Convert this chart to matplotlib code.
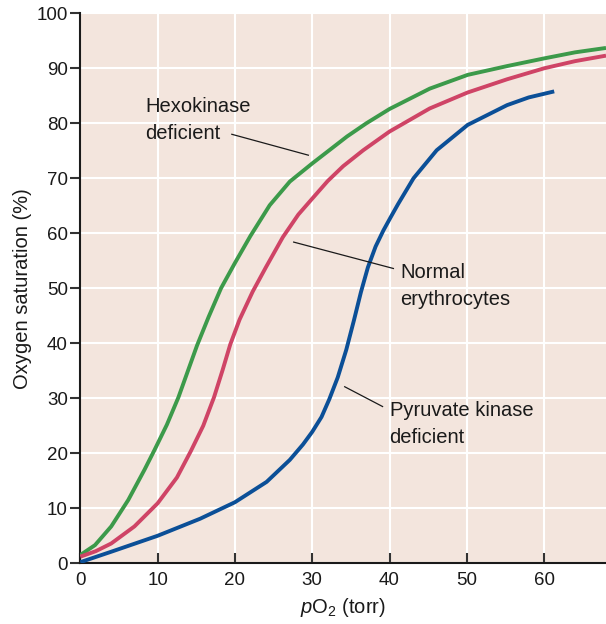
import numpy as np
import matplotlib
matplotlib.use("Agg")
import matplotlib.pyplot as plt

# curves (pO2 in torr, saturation in %)
hexo_x = [0, 1.9, 4.0, 6.2, 8.3, 9.6, 11.2, 12.7, 14.0, 15.1, 16.6, 18.2, 20, 22,
          24.5, 27.1, 30, 32.3, 34.5, 37, 40, 45.2, 50.1, 55.2, 60, 64, 68]
hexo_y = [1.5, 3.3, 6.7, 11.5, 17.0, 20.6, 25.2, 30.2, 35.3, 39.6, 44.8, 50.0, 54.6, 59.5,
          65.1, 69.4, 72.7, 75.2, 77.6, 80.0, 82.6, 86.3, 88.8, 90.4, 91.8, 92.9, 93.7]

norm_x = [0, 2, 4, 7, 10, 12.5, 14.3, 15.9, 17.3, 18.4, 19.4, 20.6, 22.3, 24, 26.2,
          28.2, 30, 32, 34, 36.6, 40, 45.2, 50.1, 55.2, 60, 64, 68]
norm_y = [1.2, 2.2, 3.6, 6.7, 10.9, 15.6, 20.4, 25, 30.2, 35.1, 39.8, 44.3, 49.4, 53.8, 59.3,
          63.4, 66.3, 69.5, 72.2, 75.1, 78.5, 82.7, 85.6, 88.0, 90.0, 91.3, 92.3]

pk_x = [0, 4, 10, 15.5, 20, 24.1, 27.1, 28.8, 30, 31.2, 32.2, 33.3, 34.4, 35.4, 36.3,
        37.2, 38.2, 39.2, 40.1, 41.1, 43.1, 46.1, 50.1, 55.2, 58, 61.3]
pk_y = [0.2, 2.1, 5.0, 8.1, 11.1, 14.8, 18.8, 21.6, 23.9, 26.6, 29.8, 33.8, 38.8, 44.2, 49.3,
        53.8, 57.6, 60.5, 62.8, 65.3, 70, 75.1, 79.7, 83.3, 84.7, 85.8]

x_ticks = [0, 10, 20, 30, 40, 50, 60]
y_ticks = [0, 10, 20, 30, 40, 50, 60, 70, 80, 90, 100]

plt.rcParams['font.family'] = ['Liberation Sans', 'DejaVu Sans']
plt.rcParams['mathtext.fontset'] = 'custom'
plt.rcParams['mathtext.rm'] = 'Liberation Sans'
plt.rcParams['mathtext.it'] = 'Liberation Sans:italic'

GREEN = '#3c9a4a'
RED = '#cf4466'
BLUE = '#0b4f97'
BG = '#f3e5dd'
INK = '#1a1a1a'

fig = plt.figure(figsize=(6.06, 6.24), dpi=100)
ax = fig.add_axes([0.1325, 0.0973, 0.8675, 0.8814])
ax.set_facecolor(BG)

ax.set_xlim(0, 68)
ax.set_ylim(0, 100)
ax.set_xticks(x_ticks)
ax.set_yticks(y_ticks)
ax.grid(True, color='white', linewidth=1.5)
ax.set_axisbelow(True)

for s in ['top', 'right']:
    ax.spines[s].set_visible(False)
for s in ['left', 'bottom']:
    ax.spines[s].set_linewidth(1.5)
    ax.spines[s].set_color(INK)

ax.tick_params(axis='y', direction='out', length=7, width=1.5, color='#333333',
               labelsize=13.5, pad=2, labelcolor=INK)
ax.tick_params(axis='x', direction='in', length=7, width=1.5, color='#333333',
               labelsize=13.5, pad=6, labelcolor=INK)

for xs, ys, c in [(hexo_x, hexo_y, GREEN), (norm_x, norm_y, RED), (pk_x, pk_y, BLUE)]:
    ax.plot(xs, ys, color=c, lw=2.8, solid_capstyle='butt',
            solid_joinstyle='round', zorder=3)

# labels with leader lines (y = baseline of the last line)
txt = dict(fontsize=14.5, color=INK, ha='left', va='baseline', linespacing=1.55)
ax.text(8.37, 77.1, "Hexokinase\ndeficient", **txt)
ax.plot([19.6, 29.5], [78.0, 74.2], color=INK, lw=0.9, zorder=4)
ax.text(41.4, 47.0, "Normal\nerythrocytes", **txt)
ax.plot([27.6, 40.5], [58.4, 53.6], color=INK, lw=0.9, zorder=4)
ax.text(40.0, 21.9, "Pyruvate kinase\ndeficient", **txt)
ax.plot([34.2, 39.1], [32.1, 28.5], color=INK, lw=0.9, zorder=4)

ax.set_ylabel("Oxygen saturation (%)", fontsize=14.5, color=INK, labelpad=3)
ax.set_xlabel(r"$p$O$_2$ (torr)", fontsize=14.5, color=INK, labelpad=5)

fig.savefig("out.png", dpi=100)
